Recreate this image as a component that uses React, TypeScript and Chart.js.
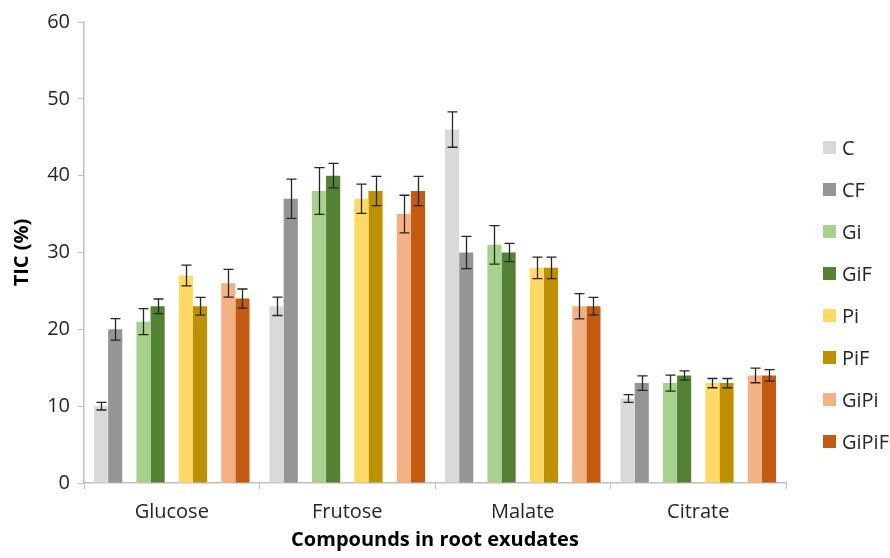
import { useEffect, useRef } from 'react';
import { Chart, registerables } from 'chart.js';

Chart.register(...registerables);

const categories = ['Glucose', 'Frutose', 'Malate', 'Citrate'];

const C = [10, 23, 46, 11];
const C_err = [0.5, 1.2, 2.3, 0.5];
const CF = [20, 37, 30, 13];
const CF_err = [1.4, 2.55, 2.1, 0.95];
const Gi = [21, 38, 31, 13];
const Gi_err = [1.7, 3.05, 2.5, 1.05];
const GiF = [23, 40, 30, 14];
const GiF_err = [0.95, 1.6, 1.2, 0.6];
const Pi = [27, 37, 28, 13];
const Pi_err = [1.35, 1.9, 1.4, 0.6];
const PiF = [23, 38, 28, 13];
const PiF_err = [1.15, 1.9, 1.4, 0.6];
const GiPi = [26, 35, 23, 14];
const GiPi_err = [1.8, 2.45, 1.65, 0.95];
const GiPiF = [24, 38, 23, 14];
const GiPiF_err = [1.25, 1.9, 1.15, 0.75];

const yTicks = [0, 10, 20, 30, 40, 50, 60];

const FONT = "'Open Sans', 'DejaVu Sans', sans-serif";

const series = [
  { label: 'C', data: C, errors: C_err, color: '#d9d9d9' },
  { label: 'CF', data: CF, errors: CF_err, color: '#959595' },
  null,
  { label: 'Gi', data: Gi, errors: Gi_err, color: '#a9d18e' },
  { label: 'GiF', data: GiF, errors: GiF_err, color: '#548235' },
  null,
  { label: 'Pi', data: Pi, errors: Pi_err, color: '#ffd966' },
  { label: 'PiF', data: PiF, errors: PiF_err, color: '#bf9000' },
  null,
  { label: 'GiPi', data: GiPi, errors: GiPi_err, color: '#f4b183' },
  { label: 'GiPiF', data: GiPiF, errors: GiPiF_err, color: '#c55a11' },
];

const errorBarPlugin = {
  id: 'errorBars',
  afterDatasetsDraw(chart: any) {
    const ctx = chart.ctx;
    const yScale = chart.scales.y;
    chart.data.datasets.forEach((ds: any, i: number) => {
      if (!ds.errors) return;
      const meta = chart.getDatasetMeta(i);
      meta.data.forEach((bar: any, j: number) => {
        const v = ds.data[j];
        const e = ds.errors[j];
        if (v == null) return;
        const x = Math.round(bar.x) + 0.5;
        const yTop = yScale.getPixelForValue(v + e);
        const yBot = yScale.getPixelForValue(v - e);
        ctx.save();
        ctx.strokeStyle = '#262626';
        ctx.lineWidth = 1.3;
        ctx.beginPath();
        ctx.moveTo(x, yTop);
        ctx.lineTo(x, yBot);
        ctx.moveTo(x - 5, yTop);
        ctx.lineTo(x + 5, yTop);
        ctx.moveTo(x - 5, yBot);
        ctx.lineTo(x + 5, yBot);
        ctx.stroke();
        ctx.restore();
      });
    });
  },
};

const sideLegendPlugin = {
  id: 'sideLegend',
  afterDraw(chart: any) {
    const ctx = chart.ctx;
    const area = chart.chartArea;
    const items = chart.data.datasets.filter((d: any) => d.label);
    const spacing = 42;
    const centerY = 295;
    const startY = centerY - ((items.length - 1) / 2) * spacing;
    const boxX = area.right + 37;
    ctx.save();
    ctx.font = `20px ${FONT}`;
    ctx.textBaseline = 'middle';
    ctx.textAlign = 'left';
    items.forEach((d: any, k: number) => {
      const y = startY + k * spacing;
      ctx.fillStyle = d.backgroundColor;
      ctx.fillRect(boxX, y - 7, 13, 13);
      ctx.fillStyle = '#262626';
      ctx.fillText(d.label, boxX + 19, y + 1);
    });
    ctx.restore();
  },
};

export default function App() {
  const canvasRef = useRef<HTMLCanvasElement | null>(null);

  useEffect(() => {
    if (!canvasRef.current) return;
    const datasets = series.map((s) =>
      s
        ? {
            label: s.label,
            data: s.data,
            errors: s.errors,
            backgroundColor: s.color,
            borderWidth: 0,
            categoryPercentage: 0.886,
            barPercentage: 1,
          }
        : {
            label: '',
            data: categories.map(() => null),
            backgroundColor: 'rgba(0,0,0,0)',
            borderWidth: 0,
            categoryPercentage: 0.886,
            barPercentage: 1,
          }
    );

    const chart = new Chart(canvasRef.current, {
      type: 'bar',
      data: { labels: categories, datasets: datasets as any },
      options: {
        animation: false,
        responsive: false,
        maintainAspectRatio: false,
        layout: { padding: { top: 22, right: 104, bottom: 0, left: 0 } },
        plugins: {
          legend: { display: false },
          tooltip: { enabled: false },
        },
        scales: {
          x: {
            offset: true,
            grid: {
              display: true,
              offset: true,
              drawOnChartArea: false,
              drawTicks: true,
              tickLength: 6,
              color: '#bfbfbf',
            },
            border: { color: '#bfbfbf', width: 1.5 },
            ticks: {
              font: { family: FONT, size: 20 },
              color: '#262626',
              padding: 11,
              maxRotation: 0,
            },
            title: {
              display: true,
              text: 'Compounds in root exudates',
              font: { family: FONT, size: 20, weight: 'bold' },
              color: '#000000',
              padding: { top: 0, bottom: 6 },
            },
            afterFit(scale: any) {
              scale.height = 75;
            },
          },
          y: {
            min: 0,
            max: 60,
            afterBuildTicks(scale: any) {
              scale.ticks = yTicks.map((v) => ({ value: v }));
            },
            grid: {
              display: true,
              drawOnChartArea: false,
              drawTicks: true,
              tickLength: 6,
              color: '#bfbfbf',
            },
            border: { color: '#bfbfbf', width: 1.5 },
            ticks: {
              font: { family: FONT, size: 20 },
              color: '#262626',
              padding: 8,
            },
            title: {
              display: true,
              text: 'TIC (%)',
              font: { family: FONT, size: 20, weight: 'bold' },
              color: '#000000',
              padding: 10,
            },
            afterFit(scale: any) {
              scale.width = 84;
            },
          },
        },
      },
      plugins: [errorBarPlugin, sideLegendPlugin],
    });
    return () => chart.destroy();
  }, []);

  return (
    <div style={{ position: 'fixed', left: 0, top: 0, width: 890, height: 558, background: '#ffffff' }}>
      <canvas ref={canvasRef} width={890} height={558} />
    </div>
  );
}
